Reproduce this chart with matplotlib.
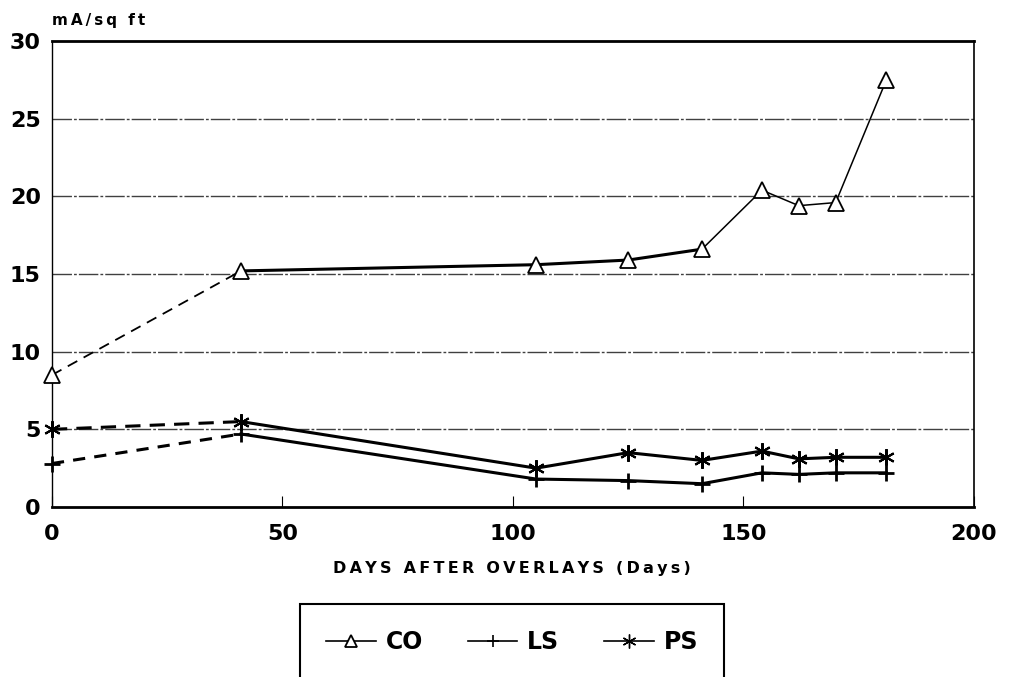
import matplotlib
matplotlib.use('Agg')
import matplotlib.pyplot as plt
from matplotlib.lines import Line2D

plt.rcParams['font.family'] = ['DejaVu Sans']
plt.rcParams['font.weight'] = 'bold'

#Data
days = [0, 41, 105, 125, 141, 154, 162, 170, 181]
co = [8.5, 15.2, 15.6, 15.9, 16.6, 20.4, 19.4, 19.6, 27.5]
ls = [2.8, 4.7, 1.8, 1.7, 1.5, 2.2, 2.1, 2.2, 2.2]
ps = [5.0, 5.5, 2.5, 3.5, 3.0, 3.6, 3.1, 3.2, 3.2]
xticks = [0, 50, 100, 150, 200]
yticks = [0, 5, 10, 15, 20, 25, 30]


def spaced(s):
    #wide letter spacing like the old plotter font
    return '\u2009'.join(s)


fig = plt.figure(figsize=(10.09, 6.77), dpi=100)
ax = fig.add_axes([0.0515, 0.2511, 0.9138, 0.6883])

#Grid
for y in yticks[1:-1]:
    ax.axhline(y, color='0.25', lw=1.0, ls=(0, (14, 1.5, 2, 1.5)), zorder=1)

tri = dict(marker='^', ms=11, mfc='white', mec='black', mew=1.3)
plus = dict(marker='+', ms=11, mec='black', mew=2)
star = dict(marker=(6, 2, 0), ms=12, mec='black', mew=1.5)

#CO: dashed first leg, thick middle, thin end
ax.plot(days[:2], co[:2], color='black', lw=1.3, ls=(0, (6, 4)), zorder=2)
ax.plot(days[1:5], co[1:5], color='black', lw=2.2, zorder=2)
ax.plot(days[4:], co[4:], color='black', lw=1.1, zorder=2)
ax.plot(days, co, ls='none', zorder=3, clip_on=False, **tri)

#LS
ax.plot(days[:2], ls[:2], color='black', lw=2.2, ls=(0, (4, 3)), zorder=2)
ax.plot(days[1:], ls[1:], color='black', lw=2.2, zorder=2)
ax.plot(days, ls, ls='none', zorder=3, clip_on=False, **plus)

#PS
ax.plot(days[:2], ps[:2], color='black', lw=2.2, ls=(0, (5, 3)), zorder=2)
ax.plot(days[1:], ps[1:], color='black', lw=2.2, zorder=2)
ax.plot(days, ps, ls='none', zorder=3, clip_on=False, **star)

ax.set_xlim(0, 200)
ax.set_ylim(0, 30)
ax.set_xticks(xticks)
ax.set_yticks(yticks)
ax.tick_params(axis='x', direction='in', length=8, width=0.8, pad=12, labelsize=16)
ax.tick_params(axis='y', length=0, pad=8, labelsize=16)
for lab in ax.get_xticklabels() + ax.get_yticklabels():
    lab.set_fontweight('bold')

ax.spines['top'].set_linewidth(2)
ax.spines['bottom'].set_linewidth(2)
ax.spines['left'].set_linewidth(1)
ax.spines['right'].set_linewidth(1.2)

fig.text(0.0515, 1 - 20 / 677, spaced('mA/sq ft'), ha='left', va='center',
         fontsize=11, fontweight='bold')
fig.text(0.507, 1 - 568 / 677, spaced('DAYS AFTER OVERLAYS (Days)'), ha='center',
         va='center', fontsize=11.5, fontweight='bold')

handles = [Line2D([], [], color='black', lw=1.2, **dict(tri, ms=9)),
           Line2D([], [], color='black', lw=1.2, **dict(plus, ms=9, mew=1.2)),
           Line2D([], [], color='black', lw=1.2, **dict(star, ms=10, mew=1))]
leg = fig.legend(handles, ['CO', 'LS', 'PS'], loc='upper left',
                 bbox_to_anchor=(300 / 1009, 1 - 604 / 677),
                 ncol=3, frameon=True, fancybox=False, framealpha=1,
                 borderpad=1.1, handlelength=2.1, handletextpad=0.42,
                 columnspacing=1.9, borderaxespad=0,
                 prop={'size': 17, 'weight': 'bold'})
leg.get_frame().set_edgecolor('black')
leg.get_frame().set_linewidth(1.5)

fig.savefig('out.png', dpi=100)
